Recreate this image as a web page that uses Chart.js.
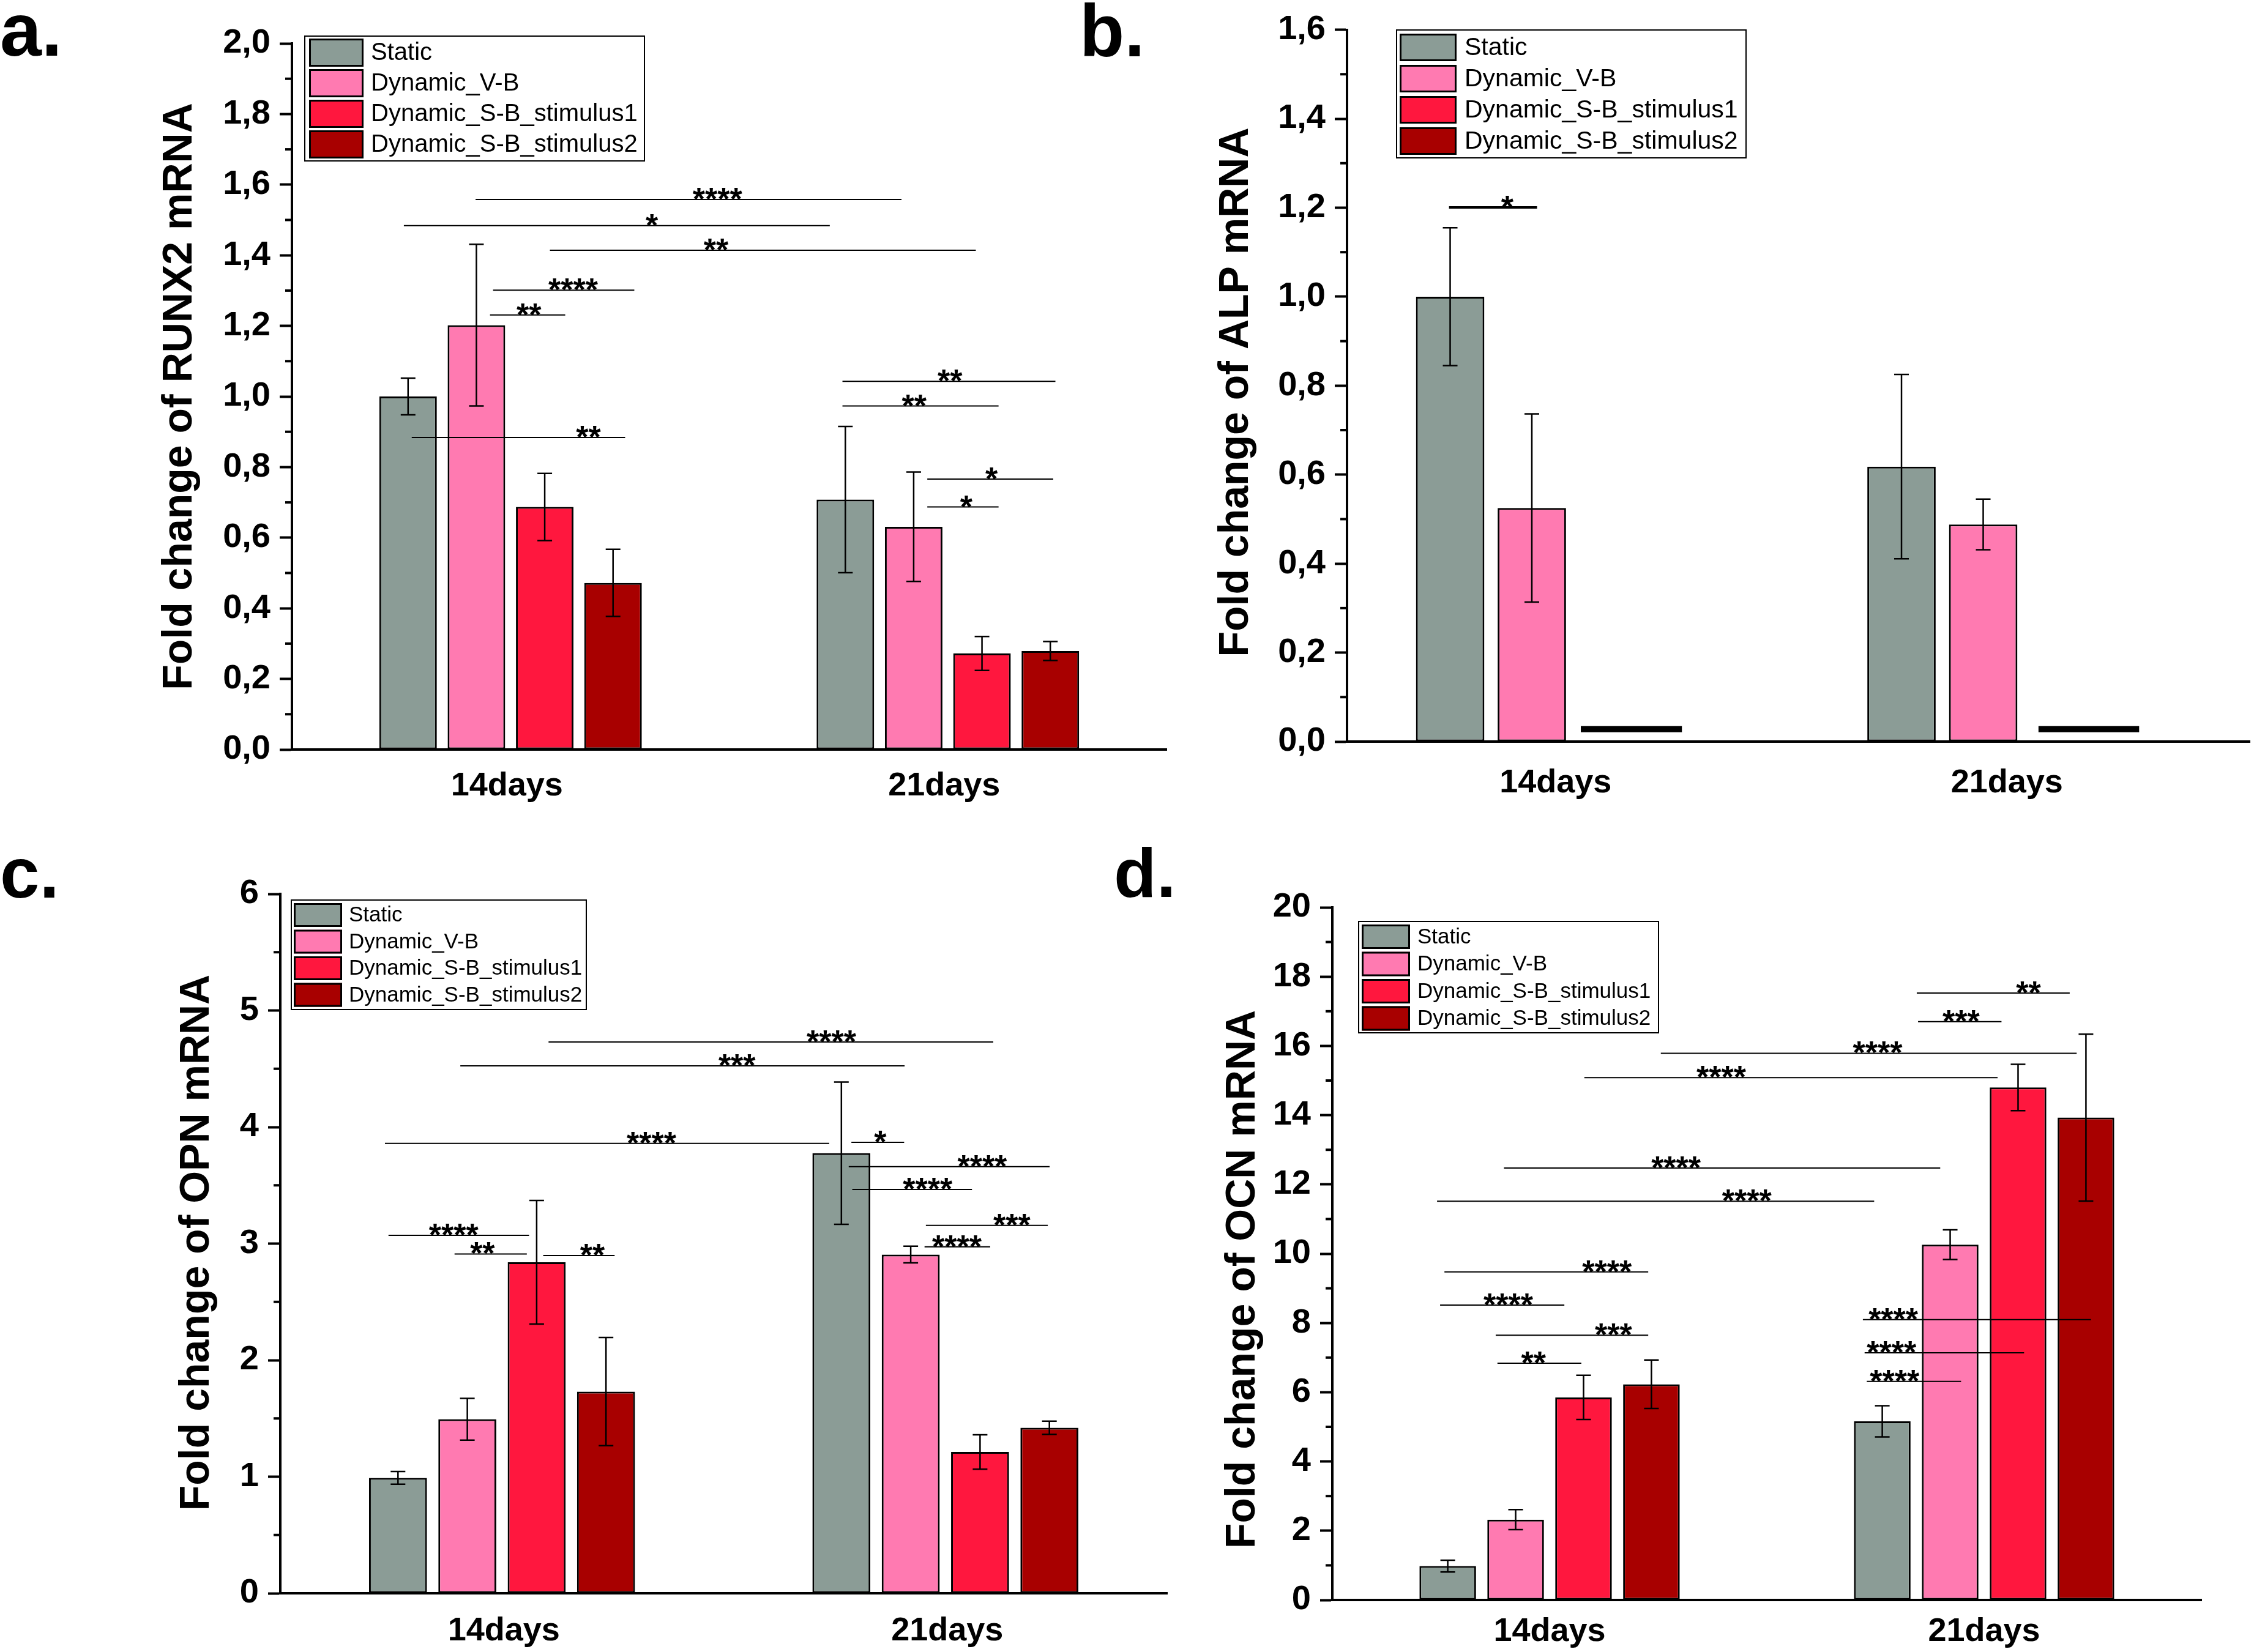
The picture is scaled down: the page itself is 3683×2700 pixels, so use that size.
<!DOCTYPE html>
<html>
<head>
<meta charset="utf-8">
<script src="https://cdn.jsdelivr.net/npm/chart.js@4.4.1/dist/chart.umd.min.js"></script>
<style>
    html, body { margin: 0; padding: 0; background: #fff; }
    body { width: 3683px; height: 2700px; position: relative; overflow: hidden; }
    canvas { position: absolute; }
</style>
</head>
<body>
<canvas id="runx2Chart" style="left:0px;top:0px" width="1940" height="1350"></canvas>
<canvas id="alpChart" style="left:1760px;top:0px" width="1923" height="1350"></canvas>
<canvas id="opnChart" style="left:0px;top:1370px" width="1940" height="1330"></canvas>
<canvas id="ocnChart" style="left:1760px;top:1370px" width="1923" height="1330"></canvas>
<script>
// qPCR fold change panels a-d (RUNX2, ALP, OPN, OCN)

const FONT = "'Liberation Sans', Arial, Helvetica, sans-serif";
Chart.defaults.font.family = FONT;
Chart.defaults.color = '#000';

const categories = ['14days', '21days'];
const seriesNames = ['Static', 'Dynamic_V-B', 'Dynamic_S-B_stimulus1', 'Dynamic_S-B_stimulus2'];
const seriesColors = ['#8b9c96', '#ff7ab1', '#ff173e', '#a80000'];

// one row per series, one value per category (14days, 21days)
const runx2Mean = [[1.00, 0.708], [1.202, 0.631], [0.687, 0.272], [0.472, 0.279]];
const runx2Sd   = [[0.052, 0.207], [0.229, 0.155], [0.095, 0.048], [0.095, 0.027]];
// significance bars: [from, to, level, stars, label position] (x in category units)
const runx2Sig = [
    [-0.080, 0.894, 1.558, '****', 0.473],
    [-0.244, 0.730, 1.484, '*', 0.323],
    [0.090, 1.064, 1.414, '**', 0.470],
    [-0.040, 0.283, 1.301, '****', 0.143],
    [-0.047, 0.125, 1.231, '**', 0.042],
    [-0.226, 0.262, 0.884, '**', 0.178],
    [0.759, 1.246, 1.043, '**', 1.005],
    [0.759, 1.116, 0.973, '**', 0.923],
    [0.953, 1.241, 0.766, '*', 1.100],
    [0.953, 1.116, 0.687, '*', 1.042]
];

const alpMean = [[1.00, 0.618], [0.525, 0.488], [null, null], [null, null]];
const alpSd   = [[0.155, 0.207], [0.2115, 0.057], [null, null], [null, null]];
const alpSig = [
    [-0.274, -0.079, 1.2007, '*', -0.145]
];
// thick flat marks drawn for the two S-B groups: [from, to, level]
const alpFlatMarks = [
    [0.018, 0.242, 0.028],
    [1.032, 1.255, 0.028]
];

const opnMean = [[0.99, 3.776], [1.493, 2.906], [2.84, 1.212], [1.73, 1.42]];
const opnSd   = [[0.054, 0.61], [0.179, 0.072], [0.53, 0.148], [0.464, 0.056]];
const opnSig = [
    [0.105, 1.108, 4.730, '****', 0.743],
    [-0.094, 0.908, 4.525, '***', 0.530],
    [-0.264, 0.738, 3.860, '****', 0.337],
    [0.788, 0.907, 3.869, '*', 0.853],
    [0.782, 1.235, 3.660, '****', 1.083],
    [0.790, 1.060, 3.464, '****', 0.960],
    [0.956, 1.231, 3.156, '***', 1.150],
    [0.953, 1.101, 2.973, '****', 1.026],
    [-0.256, 0.061, 3.071, '****', -0.109],
    [-0.107, 0.056, 2.911, '**', -0.044],
    [0.093, 0.254, 2.898, '**', 0.204]
];

const ocnMean = [[0.98, 5.16], [2.32, 10.26], [5.85, 14.80], [6.23, 13.93]];
const ocnSd   = [[0.17, 0.45], [0.29, 0.43], [0.64, 0.67], [0.70, 2.41]];
const ocnSig = [
    [0.845, 1.197, 17.526, '**', 1.102],
    [0.848, 1.040, 16.70, '***', 0.947],
    [0.256, 1.213, 15.787, '****', 0.755],
    [0.080, 1.031, 15.082, '****', 0.395],
    [-0.105, 0.899, 12.474, '****', 0.291],
    [-0.259, 0.747, 11.514, '****', 0.454],
    [-0.242, 0.227, 9.475, '****', 0.132],
    [-0.252, 0.034, 8.516, '****', -0.095],
    [-0.124, 0.227, 7.646, '***', 0.147],
    [-0.120, 0.073, 6.837, '**', -0.037],
    [0.721, 1.246, 8.096, '****', 0.791],
    [0.725, 1.092, 7.136, '****', 0.787],
    [0.730, 0.947, 6.312, '****', 0.794]
];

function makePanel(id, p) {
    const canvas = document.getElementById(id);
    if (!canvas) return;

    const decor = {
        id: 'decor_' + id,
        afterDatasetsDraw(chart) {
            const ctx = chart.ctx;
            const xs = chart.scales.x, ys = chart.scales.y;
            ctx.save();
            ctx.strokeStyle = '#000';
            ctx.fillStyle = '#000';

            // error bars
            ctx.lineWidth = 2.5;
            chart.data.datasets.forEach((ds, i) => {
                chart.getDatasetMeta(i).data.forEach((bar, j) => {
                    const m = p.mean[i][j], s = p.sd[i][j];
                    if (m == null || !s) return;
                    const yTop = ys.getPixelForValue(m + s);
                    const yBot = ys.getPixelForValue(m - s);
                    const cap = 12;
                    ctx.beginPath();
                    ctx.moveTo(bar.x, yTop); ctx.lineTo(bar.x, yBot);
                    ctx.moveTo(bar.x - cap, yTop); ctx.lineTo(bar.x + cap, yTop);
                    ctx.moveTo(bar.x - cap, yBot); ctx.lineTo(bar.x + cap, yBot);
                    ctx.stroke();
                });
            });

            // flat marks
            (p.flat || []).forEach(f => {
                ctx.lineWidth = 10;
                ctx.beginPath();
                ctx.moveTo(xs.getPixelForValue(f[0]), ys.getPixelForValue(f[2]));
                ctx.lineTo(xs.getPixelForValue(f[1]), ys.getPixelForValue(f[2]));
                ctx.stroke();
            });

            // significance lines
            ctx.font = 'bold 52px ' + FONT;
            ctx.textAlign = 'center';
            ctx.textBaseline = 'alphabetic';
            p.sig.forEach(s => {
                const yy = ys.getPixelForValue(s[2]);
                ctx.lineWidth = p.sigWidth;
                ctx.beginPath();
                ctx.moveTo(xs.getPixelForValue(s[0]), yy);
                ctx.lineTo(xs.getPixelForValue(s[1]), yy);
                ctx.stroke();
                ctx.fillText(s[3], xs.getPixelForValue(s[4]), yy + 17);
            });
            ctx.restore();
        },
        afterDraw(chart) {
            const ctx = chart.ctx;
            const ys = chart.scales.y;
            const left = chart.chartArea.left;
            ctx.save();
            ctx.strokeStyle = '#000';
            ctx.fillStyle = '#000';

            // minor ticks
            ctx.lineWidth = 4;
            for (let v = p.minor; v < p.yMax; v += p.minor) {
                const r = v / p.major;
                if (Math.abs(r - Math.round(r)) < 1e-6) continue;
                const yy = ys.getPixelForValue(v);
                ctx.beginPath();
                ctx.moveTo(left - 11, yy); ctx.lineTo(left, yy);
                ctx.stroke();
            }

            // panel letter
            ctx.font = 'bold ' + p.letter.size + 'px ' + FONT;
            ctx.textAlign = 'left';
            ctx.textBaseline = 'alphabetic';
            ctx.fillText(p.letter.text, p.letter.x, p.letter.y);

            // y axis title
            ctx.save();
            ctx.translate(p.title.x, p.title.y);
            ctx.rotate(-Math.PI / 2);
            ctx.font = 'bold 68px ' + FONT;
            ctx.textAlign = 'center';
            ctx.textBaseline = 'middle';
            ctx.fillText(p.title.text, 0, 0);
            ctx.restore();

            // legend
            const lg = p.legend;
            ctx.lineWidth = 2;
            ctx.strokeRect(lg.x, lg.y, lg.w, lg.h);
            ctx.font = lg.font + 'px ' + FONT;
            ctx.textAlign = 'left';
            ctx.textBaseline = 'middle';
            chart.data.datasets.forEach((ds, i) => {
                const sy = lg.sy + i * lg.pitch;
                ctx.fillStyle = ds.backgroundColor;
                ctx.fillRect(lg.sx, sy, lg.sw, lg.sh);
                ctx.lineWidth = 3;
                ctx.strokeRect(lg.sx + 1.5, sy + 1.5, lg.sw - 3, lg.sh - 3);
                ctx.fillStyle = '#000';
                ctx.fillText(ds.label, lg.tx, sy + lg.sh / 2 + 1);
            });
            ctx.restore();
        }
    };

    new Chart(canvas, {
        type: 'bar',
        data: {
            labels: categories,
            datasets: seriesNames.map((name, i) => ({
                label: name,
                data: p.mean[i],
                backgroundColor: seriesColors[i],
                borderColor: '#000',
                borderWidth: 3,
                borderSkipped: false,
                categoryPercentage: p.catPct,
                barPercentage: p.barPct
            }))
        },
        options: {
            responsive: false,
            animation: false,
            events: [],
            layout: {
                padding: { left: 0, top: p.pad.top, right: p.pad.right, bottom: p.pad.bottom }
            },
            scales: {
                x: {
                    afterFit: scale => { scale.height = p.xAxisH; },
                    border: { color: '#000', width: 4 },
                    grid: { display: false },
                    ticks: {
                        padding: p.xPad,
                        labelOffset: p.xShift,
                        color: '#000',
                        font: { size: 54, weight: 'bold' }
                    }
                },
                y: {
                    min: 0,
                    max: p.yMax,
                    afterFit: scale => { scale.width = p.axisW; },
                    border: { color: '#000', width: 4 },
                    grid: {
                        drawOnChartArea: false,
                        drawTicks: true,
                        tickLength: 20,
                        tickWidth: 4,
                        tickColor: '#000'
                    },
                    ticks: {
                        stepSize: p.major,
                        padding: 15,
                        color: '#000',
                        font: { size: 56, weight: 'bold' },
                        callback: v => v.toFixed(p.decimals).replace('.', ',')
                    }
                }
            },
            plugins: {
                legend: { display: false },
                tooltip: { enabled: false }
            }
        },
        plugins: [decor]
    });
}

makePanel('runx2Chart', {
    mean: runx2Mean, sd: runx2Sd, sig: runx2Sig, sigWidth: 2,
    yMax: 2.0, major: 0.2, minor: 0.1, decimals: 1,
    catPct: 0.625, barPct: 0.842,
    axisW: 477, xAxisH: 100, xPad: 20, xShift: -6,
    pad: { top: 71, right: 34, bottom: 25 },
    letter: { text: 'a.', x: 0, y: 91, size: 122 },
    title: { text: 'Fold change of RUNX2 mRNA', x: 294, y: 648 },
    legend: { x: 498, y: 59, w: 555, h: 204, sx: 505, sy: 63, sw: 89, sh: 46, pitch: 50, tx: 606, font: 40 }
});

makePanel('alpChart', {
    mean: alpMean, sd: alpSd, sig: alpSig, sigWidth: 4, flat: alpFlatMarks,
    yMax: 1.6, major: 0.2, minor: 0.1, decimals: 1,
    catPct: 0.724, barPct: 0.837,
    axisW: 441, xAxisH: 100, xPad: 28, xShift: -28,
    pad: { top: 40, right: 7, bottom: 38 },
    letter: { text: 'b.', x: 4, y: 92, size: 120 },
    title: { text: 'Fold change of ALP mRNA', x: 260, y: 641 },
    legend: { x: 522, y: 49, w: 571, h: 209, sx: 527, sy: 55, sw: 93, sh: 45, pitch: 51, tx: 633, font: 41 }
});

makePanel('opnChart', {
    mean: opnMean, sd: opnSd, sig: opnSig, sigWidth: 2,
    yMax: 6, major: 1, minor: 0.5, decimals: 0,
    catPct: 0.6255, barPct: 0.836,
    axisW: 458, xAxisH: 90, xPad: 22, xShift: 3,
    pad: { top: 91, right: 33, bottom: 6 },
    letter: { text: 'c.', x: 0, y: 97, size: 116 },
    title: { text: 'Fold change of OPN mRNA', x: 322, y: 661 },
    legend: { x: 476, y: 101, w: 482, h: 179, sx: 480, sy: 106, sw: 79, sh: 39, pitch: 43.5, tx: 570, font: 35 }
});

makePanel('ocnChart', {
    mean: ocnMean, sd: ocnSd, sig: ocnSig, sigWidth: 2,
    yMax: 20, major: 2, minor: 1, decimals: 0,
    catPct: 0.625, barPct: 0.834,
    axisW: 417, xAxisH: 80, xPad: 12, xShift: 0,
    pad: { top: 113, right: 86, bottom: 5 },
    letter: { text: 'd.', x: 60, y: 96, size: 114 },
    title: { text: 'Fold change of OCN mRNA', x: 271, y: 721 },
    legend: { x: 460, y: 136, w: 490, h: 182, sx: 465, sy: 141, sw: 79, sh: 40, pitch: 44.5, tx: 556, font: 35 }
});
</script>
</body>
</html>
